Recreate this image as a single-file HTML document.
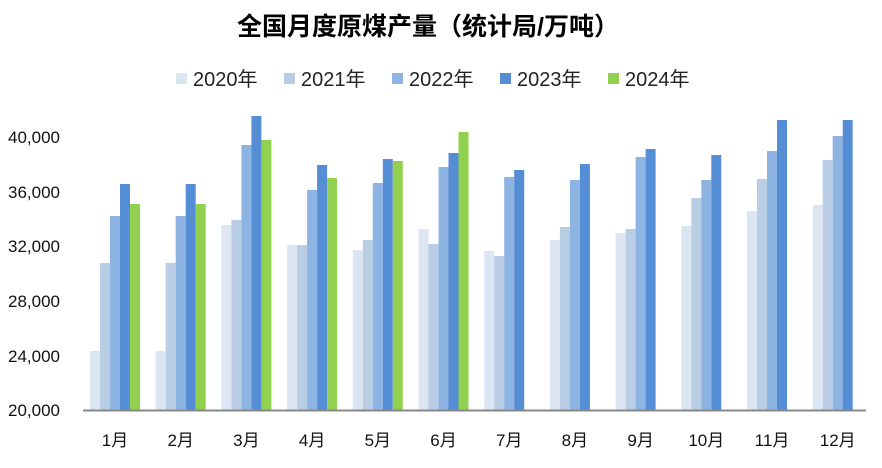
<!DOCTYPE html><html><head><meta charset="utf-8"><style>body{margin:0;background:#fff}</style></head><body>
<svg width="882" height="463" xmlns="http://www.w3.org/2000/svg" font-family="Liberation Sans, Noto Sans CJK SC, sans-serif">
<text x="428" y="35" text-anchor="middle" font-size="25" font-weight="bold" fill="#000">全国月度原煤产量（统计局/万吨）</text>
<g font-size="20" fill="#222">
<rect x="176" y="73" width="11" height="11" fill="#dce6f2"/><text x="193" y="86">2020年</text>
<rect x="284" y="73" width="11" height="11" fill="#b9cde5"/><text x="301" y="86">2021年</text>
<rect x="392" y="73" width="11" height="11" fill="#8eb4e3"/><text x="409" y="86">2022年</text>
<rect x="500" y="73" width="11" height="11" fill="#558ed5"/><text x="517" y="86">2023年</text>
<rect x="608" y="73" width="11" height="11" fill="#92d050"/><text x="625" y="86">2024年</text>
</g>
<g font-size="17" fill="#111" text-anchor="end">
<text x="60" y="416">20,000</text><text x="60" y="362">24,000</text><text x="60" y="307">28,000</text>
<text x="60" y="252">32,000</text><text x="60" y="198">36,000</text><text x="60" y="143">40,000</text>
</g>
<g fill="#dce6f2">
<rect x="90" y="351" width="10" height="59"/><rect x="155.7" y="351" width="10" height="59"/><rect x="221.4" y="225" width="10" height="185"/><rect x="287.1" y="245" width="10" height="165"/><rect x="352.8" y="250" width="10" height="160"/><rect x="418.5" y="229" width="10" height="181"/><rect x="484.2" y="251" width="10" height="159"/><rect x="549.9" y="240" width="10" height="170"/><rect x="615.6" y="233" width="10" height="177"/><rect x="681.3" y="226" width="10" height="184"/><rect x="747" y="211" width="10" height="199"/><rect x="812.7" y="205" width="10" height="205"/>
</g>
<g fill="#b9cde5">
<rect x="100" y="263" width="10" height="147"/><rect x="165.7" y="263" width="10" height="147"/><rect x="231.4" y="220" width="10" height="190"/><rect x="297.1" y="245" width="10" height="165"/><rect x="362.8" y="240" width="10" height="170"/><rect x="428.5" y="244" width="10" height="166"/><rect x="494.2" y="256" width="10" height="154"/><rect x="559.9" y="227" width="10" height="183"/><rect x="625.6" y="229" width="10" height="181"/><rect x="691.3" y="198" width="10" height="212"/><rect x="757" y="179" width="10" height="231"/><rect x="822.7" y="160" width="10" height="250"/>
</g>
<g fill="#8eb4e3">
<rect x="110" y="216" width="10" height="194"/><rect x="175.7" y="216" width="10" height="194"/><rect x="241.4" y="145" width="10" height="265"/><rect x="307.1" y="190" width="10" height="220"/><rect x="372.8" y="183" width="10" height="227"/><rect x="438.5" y="167" width="10" height="243"/><rect x="504.2" y="177" width="10" height="233"/><rect x="569.9" y="180" width="10" height="230"/><rect x="635.6" y="157" width="10" height="253"/><rect x="701.3" y="180" width="10" height="230"/><rect x="767" y="151" width="10" height="259"/><rect x="832.7" y="136" width="10" height="274"/>
</g>
<g fill="#558ed5">
<rect x="120" y="184" width="10" height="226"/><rect x="185.7" y="184" width="10" height="226"/><rect x="251.4" y="116" width="10" height="294"/><rect x="317.1" y="165" width="10" height="245"/><rect x="382.8" y="159" width="10" height="251"/><rect x="448.5" y="153" width="10" height="257"/><rect x="514.2" y="170" width="10" height="240"/><rect x="579.9" y="164" width="10" height="246"/><rect x="645.6" y="149" width="10" height="261"/><rect x="711.3" y="155" width="10" height="255"/><rect x="777" y="120" width="10" height="290"/><rect x="842.7" y="120" width="10" height="290"/>
</g>
<g fill="#92d050">
<rect x="130" y="204" width="10" height="206"/><rect x="195.7" y="204" width="10" height="206"/><rect x="261.4" y="140" width="10" height="270"/><rect x="327.1" y="178" width="10" height="232"/><rect x="392.8" y="161" width="10" height="249"/><rect x="458.5" y="132" width="10" height="278"/>
</g>
<line x1="83" y1="410.5" x2="866" y2="410.5" stroke="#888" stroke-width="2"/>
<g font-size="17" fill="#111" text-anchor="middle">
<text x="115" y="446">1月</text><text x="180.7" y="446">2月</text><text x="246.4" y="446">3月</text><text x="312.1" y="446">4月</text><text x="377.8" y="446">5月</text><text x="443.5" y="446">6月</text><text x="509.2" y="446">7月</text><text x="574.9" y="446">8月</text><text x="640.6" y="446">9月</text><text x="706.3" y="446">10月</text><text x="772" y="446">11月</text><text x="837.7" y="446">12月</text>
</g>
</svg></body></html>
